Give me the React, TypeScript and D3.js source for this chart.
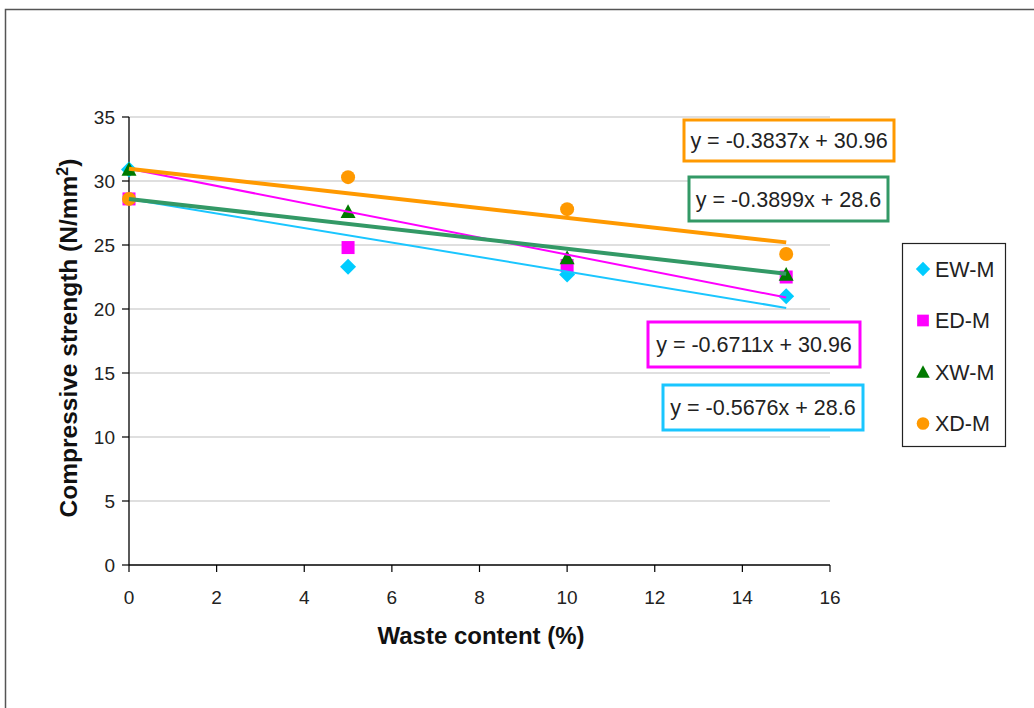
import React from "react";
import * as d3 from "d3";

const xTicks = [0, 2, 4, 6, 8, 10, 12, 14, 16];
const yTicks = [0, 5, 10, 15, 20, 25, 30, 35];
const waste = [0, 5, 10, 15];
const seriesNames = ["EW-M", "ED-M", "XW-M", "XD-M"];
const ewM = [30.9, 23.3, 22.7, 21.0];
const edM = [28.6, 24.8, 23.4, 22.5];
const xwM = [30.9, 27.6, 24.0, 22.7];
const xdM = [28.6, 30.3, 27.8, 24.3];
const slopes = [-0.5676, -0.6711, -0.3899, -0.3837];
const intercepts = [28.6, 30.96, 28.6, 30.96];
const eqLabels = ["y = -0.5676x + 28.6", "y = -0.6711x + 30.96", "y = -0.3899x + 28.6", "y = -0.3837x + 30.96"];
const colors = ["#00ccff", "#ff00ff", "#007a00", "#ff9900"];
const lineColors = ["#1ac6ff", "#ff00ff", "#339966", "#ff9900"];
const lineWidths = [2, 2, 4, 4];

const eqBoxes = [
  { x: 663, y: 385, w: 200, h: 45 },
  { x: 648, y: 322, w: 212, h: 45 },
  { x: 689, y: 177, w: 199, h: 44 },
  { x: 684, y: 120, w: 210, h: 41 },
];

function marker(i: number, cx: number, cy: number, k = 1) {
  if (i === 0) {
    const s = 8 * k;
    return <path d={`M${cx},${cy - s}L${cx + s},${cy}L${cx},${cy + s}L${cx - s},${cy}Z`} fill={colors[0]} />;
  }
  if (i === 1) {
    const s = 6.5 * k;
    return <rect x={cx - s} y={cy - s} width={2 * s} height={2 * s} fill={colors[1]} />;
  }
  if (i === 2) {
    const s = 7.5 * k;
    return <path d={`M${cx},${cy - s}L${cx + s},${cy + s * 0.85}L${cx - s},${cy + s * 0.85}Z`} fill={colors[2]} />;
  }
  return <circle cx={cx} cy={cy} r={7 * k} fill={colors[3]} />;
}

export default function App() {
  const x = d3.scaleLinear().domain([0, 16]).range([129, 830]);
  const y = d3.scaleLinear().domain([0, 35]).range([565, 117]);
  const data = [ewM, edM, xwM, xdM];
  const font = "Arial, 'Liberation Sans', sans-serif";
  return (
    <svg width={1034} height={708} style={{ position: "absolute", left: 0, top: 0, background: "#fff" }} fontFamily={font}>
      <rect x={5.5} y={9.5} width={1040} height={710} fill="#fff" stroke="#555" strokeWidth={1.5} />
      {yTicks.filter((t) => t > 0).map((t) => (
        <line key={t} x1={x(0)} x2={x(16)} y1={y(t)} y2={y(t)} stroke="#c0c0c0" strokeWidth={1.2} />
      ))}
      <line x1={x(0)} x2={x(0)} y1={y(0)} y2={y(35)} stroke="#000" strokeWidth={1.3} />
      <line x1={x(0)} x2={x(16)} y1={y(0)} y2={y(0)} stroke="#000" strokeWidth={1.3} />
      {yTicks.map((t) => (
        <g key={t}>
          <line x1={x(0) - 7} x2={x(0)} y1={y(t)} y2={y(t)} stroke="#000" strokeWidth={1.2} />
          <text x={x(0) - 14} y={y(t)} dy="0.35em" textAnchor="end" fontSize={19} fill="#222">{t}</text>
        </g>
      ))}
      {xTicks.map((t) => (
        <g key={t}>
          <line x1={x(t)} x2={x(t)} y1={y(0)} y2={y(0) + 7} stroke="#000" strokeWidth={1.2} />
          <text x={x(t)} y={y(0) + 39} textAnchor="middle" fontSize={19} fill="#222">{t}</text>
        </g>
      ))}
      <text x={481} y={644} textAnchor="middle" fontSize={24} fontWeight="bold" fill="#111">Waste content (%)</text>
      <text transform={`translate(77,338) rotate(-90)`} textAnchor="middle" fontSize={24.5} fontWeight="bold" fill="#111">
        Compressive strength (N/mm<tspan dy={-9} fontSize={16}>2</tspan><tspan dy={9}>)</tspan>
      </text>
      {data.map((vals, i) => (
        <g key={i}>
          {vals.map((v, j) => (
            <g key={j}>{marker(i, x(waste[j]), y(v))}</g>
          ))}
        </g>
      ))}
      {[0, 1, 3, 2].map((i) => (
        <line key={i} x1={x(0)} y1={y(intercepts[i])} x2={x(15)} y2={y(intercepts[i] + slopes[i] * 15)}
          stroke={lineColors[i]} strokeWidth={lineWidths[i]} />
      ))}
      {eqBoxes.map((b, i) => (
        <g key={i}>
          <rect x={b.x} y={b.y} width={b.w} height={b.h} fill="#fff" stroke={lineColors[i]} strokeWidth={3} />
          <text x={b.x + b.w / 2} y={b.y + b.h / 2} dy="0.36em" textAnchor="middle" fontSize={21.5} fill="#222">{eqLabels[i]}</text>
        </g>
      ))}
      <rect x={902.5} y={243.5} width={103} height={203} fill="#fff" stroke="#222" strokeWidth={1.2} />
      {seriesNames.map((n, i) => {
        const ly = 269 + i * 51.5;
        return (
          <g key={n}>
            {marker(i, 923, ly, 0.9)}
            <text x={935} y={ly} dy="0.36em" fontSize={21.5} fill="#222">{n}</text>
          </g>
        );
      })}
    </svg>
  );
}
